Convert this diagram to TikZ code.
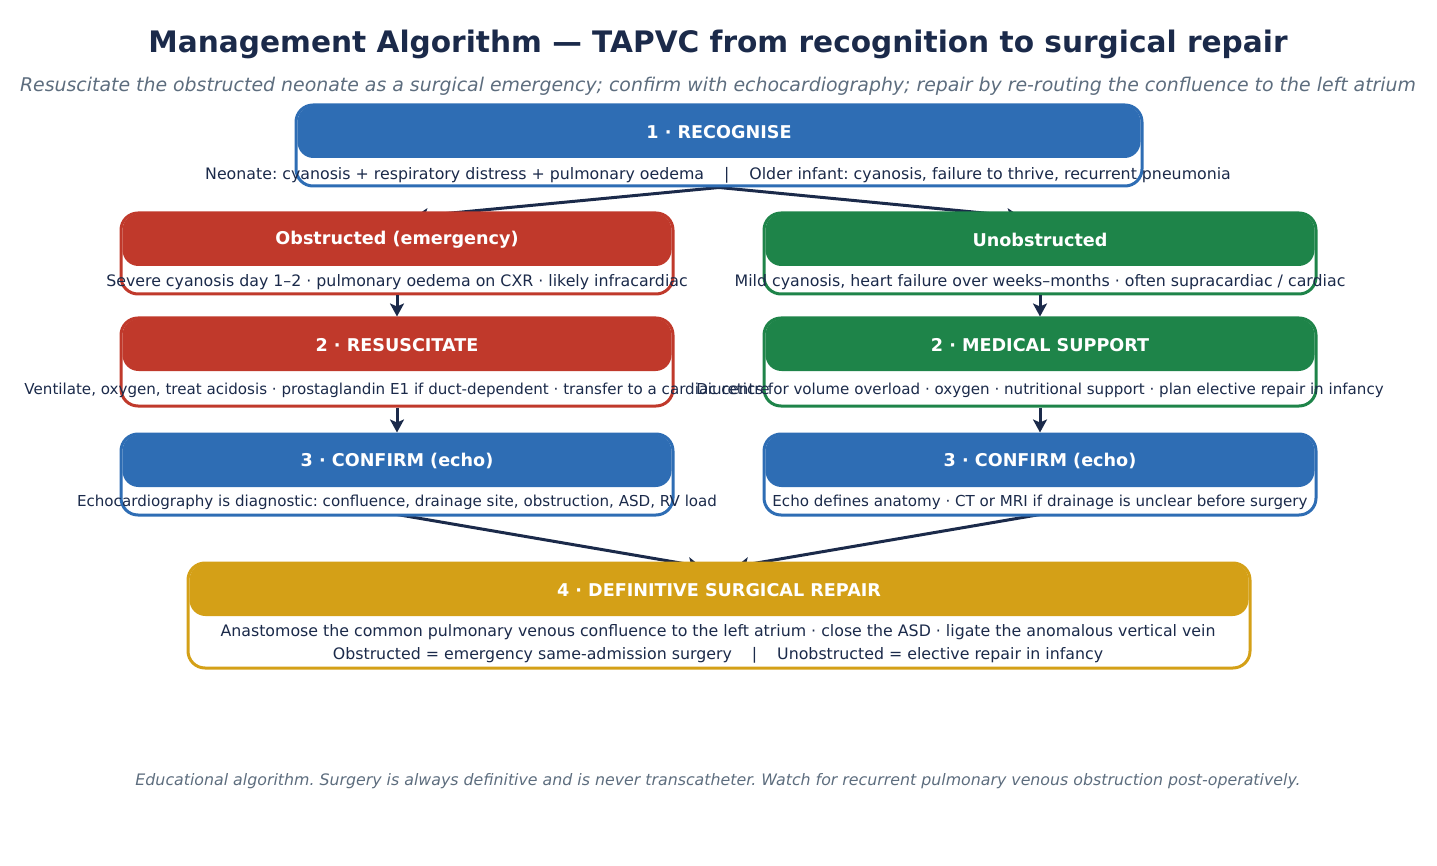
\documentclass[tikz,border=0pt]{standalone}
\usepackage{fontspec}
\setmainfont{DejaVu Sans}
\usetikzlibrary{calc,arrows.meta,backgrounds}
\definecolor{cblue}{HTML}{2E6DB4}
\definecolor{cred}{HTML}{C0392B}
\definecolor{cgreen}{HTML}{1E8449}
\definecolor{cgold}{HTML}{D4A017}
\definecolor{navy}{HTML}{1B2A4A}
\definecolor{cgray}{HTML}{5D6D7E}
\frenchspacing
\tikzset{
  outerbox/.style={draw=#1, line width=3pt, fill=white, rounded corners=17pt, inner sep=0pt},
  headbox/.style={fill=#1, rounded corners=16pt, inner sep=0pt, text=white,
     font=\fontsize{17.6}{20}\selectfont\bfseries},
  bodytext/.style={text=navy, font=\fontsize{15.8}{22.5}\selectfont, inner sep=0pt, align=center},
  smallbody/.style={bodytext, font=\fontsize{15.1}{22}\selectfont},
  conn/.style={draw=navy, line width=3pt, -{Stealth[length=13pt,width=14pt,inset=3pt]}},
}
% name, colour, x1, y1, x2, y2, title
\newcommand{\tapbox}[7]{%
  \node[outerbox=#2, minimum width={(#5-#3)*1pt}, minimum height={(#6-#4)*1pt}]
     (#1) at ({(#3+#5)/2},{(#4+#6)/2}) {};
  \node[headbox=#2, minimum width={(#5-#3-3)*1pt}, minimum height=52pt]
     (#1h) at ({(#3+#5)/2},{#4+27}) {#7};
}
\newcommand{\sepbar}{\hspace{20pt}|\hspace{20pt}}
\begin{document}
\begin{tikzpicture}[x=1pt,y=-1pt]
\useasboundingbox (0,0) rectangle (1437,866);
\node[text=navy, font=\fontsize{29.6}{34}\selectfont\bfseries] (title) at (718,44)
  {Management Algorithm — TAPVC from recognition to surgical repair};
\node[text=cgray, font=\fontsize{18.9}{22}\selectfont\itshape] (sub) at (718,86)
  {Resuscitate the obstructed neonate as a surgical emergency; confirm with echocardiography; repair by re-routing the confluence to the left atrium};

\tapbox{rec}{cblue}{296}{105}{1142}{186}{1 · RECOGNISE}
\tapbox{obs}{cred}{121}{213}{673}{294}{Obstructed (emergency)}
\tapbox{uno}{cgreen}{764}{213}{1316}{294}{Unobstructed}
\tapbox{res}{cred}{121}{318}{673}{406}{2 · RESUSCITATE}
\tapbox{med}{cgreen}{764}{318}{1316}{406}{2 · MEDICAL SUPPORT}
\tapbox{cfl}{cblue}{121}{434}{673}{515}{3 · CONFIRM (echo)}
\tapbox{cfr}{cblue}{764}{434}{1316}{515}{3 · CONFIRM (echo)}
\tapbox{sur}{cgold}{188}{563}{1250}{668}{4 · DEFINITIVE SURGICAL REPAIR}

\node[bodytext] (recb) at (718,175) {Neonate: cyanosis + respiratory distress + pulmonary oedema\sepbar Older infant: cyanosis, failure to thrive, recurrent pneumonia};
\node[bodytext] (obsb) at (397,282) {Severe cyanosis day 1–2 · pulmonary oedema on CXR · likely infracardiac};
\node[bodytext] (unob) at (1040,282) {Mild cyanosis, heart failure over weeks–months · often supracardiac / cardiac};
\node[smallbody] (resb) at (397,390) {Ventilate, oxygen, treat acidosis · prostaglandin E1 if duct-dependent · transfer to a cardiac centre};
\node[smallbody] (medb) at (1040,390) {Diuretics for volume overload · oxygen · nutritional support · plan elective repair in infancy};
\node[smallbody] (cflb) at (397,502) {Echocardiography is diagnostic: confluence, drainage site, obstruction, ASD, RV load};
\node[smallbody] (cfrb) at (1040,502) {Echo defines anatomy · CT or MRI if drainage is unclear before surgery};
\node[bodytext] (surb) at (718,644) {Anastomose the common pulmonary venous confluence to the left atrium · close the ASD · ligate the anomalous vertical vein\\ Obstructed = emergency same-admission surgery\sepbar Unobstructed = elective repair in infancy};

\node[text=cgray, font=\fontsize{15.8}{19}\selectfont\itshape] (foot) at (718,781)
  {Educational algorithm. Surgery is always definitive and is never transcatheter. Watch for recurrent pulmonary venous obstruction post-operatively.};

\begin{scope}[on background layer]
  \draw[conn] (rec.south) -- ($(obs.north)+(18,5)$);
  \draw[conn] (rec.south) -- ($(uno.north)+(-20,5)$);
  \draw[conn] ($(cfl.south)+(0,-2)$) -- ($(sur.north)+(-18,5)$);
  \draw[conn] ($(cfr.south)+(0,-2)$) -- ($(sur.north)+(17,5)$);
\end{scope}
\draw[conn] (obs.south) -- (res.north);
\draw[conn] (uno.south) -- (med.north);
\draw[conn] (res.south) -- (cfl.north);
\draw[conn] (med.south) -- (cfr.north);
\end{tikzpicture}
\end{document}
